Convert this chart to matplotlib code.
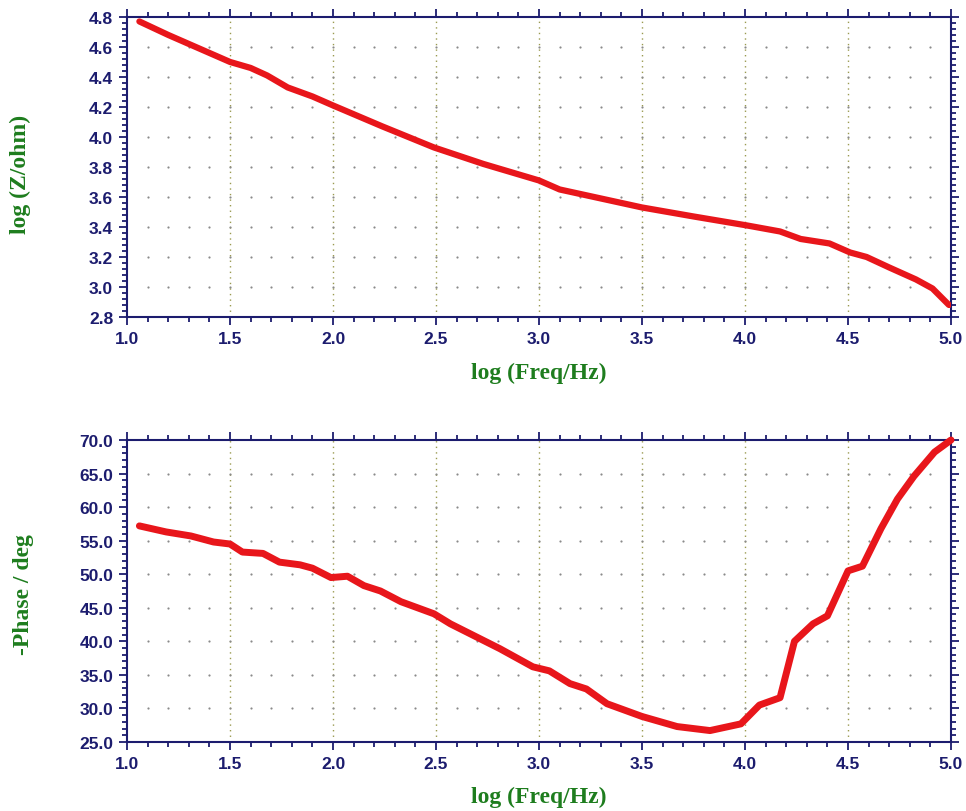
import numpy as np
import matplotlib
matplotlib.use("Agg")
from matplotlib import pyplot as plt
from matplotlib.ticker import MultipleLocator
from matplotlib.font_manager import FontProperties

# log(Z/ohm) vs log(Freq/Hz)
freq_z = [1.06, 1.20, 1.35, 1.50, 1.60, 1.68, 1.78, 1.90, 2.00, 2.24, 2.49, 2.73,
          3.00, 3.10, 3.30, 3.50, 3.75, 4.01, 4.17, 4.27, 4.41, 4.51, 4.59, 4.70,
          4.83, 4.91, 4.99]
log_z = [4.77, 4.68, 4.59, 4.50, 4.46, 4.41, 4.33, 4.27, 4.21, 4.07, 3.93, 3.82,
         3.71, 3.65, 3.59, 3.53, 3.47, 3.41, 3.37, 3.32, 3.29, 3.23, 3.20, 3.13,
         3.05, 2.99, 2.88]

# -Phase vs log(Freq/Hz)
freq_p = [1.06, 1.19, 1.31, 1.42, 1.50, 1.56, 1.66, 1.74, 1.84, 1.90, 1.99, 2.07,
          2.15, 2.23, 2.33, 2.49, 2.57, 2.81, 2.97, 3.05, 3.15, 3.23, 3.33, 3.50,
          3.67, 3.83, 3.98, 4.07, 4.17, 4.24, 4.33, 4.40, 4.50, 4.57, 4.66, 4.74,
          4.82, 4.92, 5.00]
phase = [57.2, 56.3, 55.7, 54.8, 54.5, 53.3, 53.1, 51.8, 51.4, 50.9, 49.5, 49.7,
         48.3, 47.5, 45.9, 44.1, 42.6, 38.9, 36.2, 35.6, 33.7, 32.9, 30.7, 28.8,
         27.3, 26.7, 27.7, 30.5, 31.6, 40.0, 42.6, 43.8, 50.5, 51.2, 56.8, 61.2,
         64.6, 68.2, 70.0]

navy = "#1c1c6e"
green = "#1e7d1e"
red = "#e8161b"

tick_font = FontProperties(family=["Liberation Sans Narrow", "DejaVu Sans Condensed", "Liberation Sans"],
                           weight="bold", size=12.5)
label_font = {"family": ["Liberation Serif", "DejaVu Serif"], "weight": "bold", "size": 17}

fig = plt.figure(figsize=(9.66, 8.12), dpi=100)
ax1 = fig.add_axes([0.1315, 0.6084, 0.853, 0.3695])
ax2 = fig.add_axes([0.1315, 0.085, 0.853, 0.3719])


def style_axis(ax, ylim, ymajor, yminor):
    ax.set_xlim(1.0, 5.0)
    ax.set_ylim(*ylim)
    ax.xaxis.set_major_locator(MultipleLocator(0.5))
    ax.xaxis.set_minor_locator(MultipleLocator(0.1))
    ax.yaxis.set_major_locator(MultipleLocator(ymajor))
    ax.yaxis.set_minor_locator(MultipleLocator(yminor))
    ax.xaxis.set_major_formatter(lambda v, p: f"{v:.1f}")
    ax.yaxis.set_major_formatter(lambda v, p: f"{v:.1f}")
    for s in ax.spines.values():
        s.set_color(navy)
        s.set_linewidth(1.5)
    ax.tick_params(which="both", direction="out", color=navy, top=True, right=True,
                   labelcolor=navy, width=1.3)
    ax.tick_params(which="major", length=6, pad=4)
    ax.tick_params(which="minor", length=3.5)
    for lab in ax.get_xticklabels() + ax.get_yticklabels():
        lab.set_fontproperties(tick_font)

    # vertical dotted grid at major x ticks
    for xv in np.arange(1.5, 5.0, 0.5):
        ax.axvline(xv, color="#9a9a50", linestyle=(0, (1, 3)), linewidth=1.0, zorder=1)
    # dotted horizontal grid: dots at minor x positions
    xs = np.arange(1.1, 5.0, 0.1)
    ys = ax.get_yticks()
    ys = ys[(ys > ylim[0]) & (ys < ylim[1])]
    gx, gy = np.meshgrid(xs, ys)
    ax.scatter(gx.ravel(), gy.ravel(), s=2.5, color="#8a8a8a", linewidths=0, zorder=1)
    ax.set_xlabel("log (Freq/Hz)", color=green, **label_font)


style_axis(ax1, (2.8, 4.8), 0.2, 0.04)
ax1.plot(freq_z, log_z, color=red, linewidth=4.5, solid_capstyle="round", zorder=3)
ax1.set_ylabel("log (Z/ohm)", color=green, **label_font)
ax1.xaxis.set_label_coords(0.5, -0.15)
ax1.yaxis.set_label_coords(-0.116, 0.477)

style_axis(ax2, (25.0, 70.0), 5.0, 1.0)
ax2.plot(freq_p, phase, color=red, linewidth=5.0, solid_capstyle="round", zorder=3,
         clip_on=False)
ax2.set_ylabel("-Phase / deg", color=green, **label_font)
ax2.xaxis.set_label_coords(0.5, -0.146)
ax2.yaxis.set_label_coords(-0.113, 0.49)

fig.savefig("out.png", dpi=100)
